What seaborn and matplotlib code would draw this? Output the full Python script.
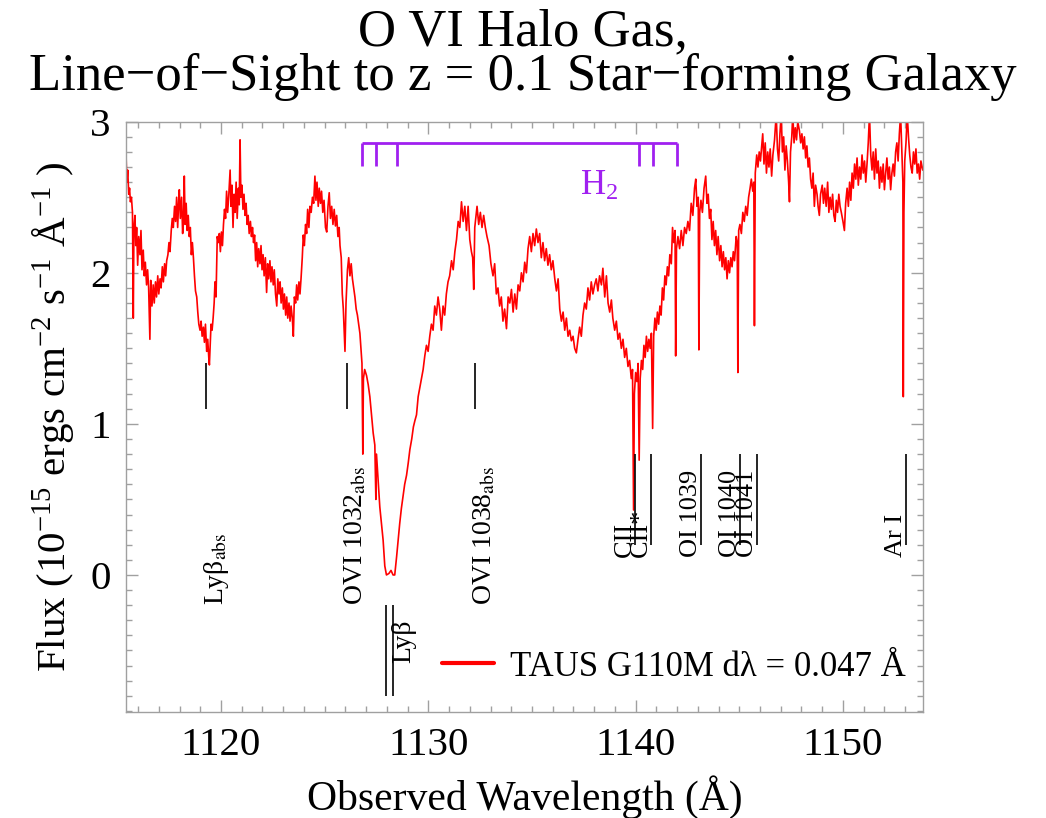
import numpy as np
import pandas as pd
import matplotlib
matplotlib.use("Agg")
import matplotlib.pyplot as plt
from matplotlib.ticker import MultipleLocator
import seaborn as sns

# spectrum, in pieces (wavelength in A, flux in 1e-15 cgs)
blue_wave = [1115.42, 1115.46, 1115.50, 1115.55, 1115.59, 1115.63, 1115.68, 1115.73, 1115.77, 1115.80,
             1115.85, 1115.89, 1115.93, 1115.98, 1116.03, 1116.09, 1116.14, 1116.19, 1116.25, 1116.30,
             1116.35, 1116.41, 1116.46, 1116.51, 1116.57, 1116.61, 1116.67, 1116.73, 1116.78, 1116.84,
             1116.89, 1116.95, 1117.00, 1117.06, 1117.11, 1117.17, 1117.22, 1117.28, 1117.33, 1117.38,
             1117.44, 1117.49, 1117.54, 1117.60, 1117.65, 1117.70, 1117.76, 1117.81, 1117.86, 1117.91,
             1117.96, 1117.99, 1118.04, 1118.10, 1118.15, 1118.20, 1118.23, 1118.27, 1118.32, 1118.37,
             1118.42, 1118.47, 1118.52, 1118.57, 1118.62, 1118.67, 1118.72, 1118.77, 1118.83, 1118.88,
             1118.93, 1118.99, 1119.04, 1119.09, 1119.15, 1119.20, 1119.25, 1119.31, 1119.36, 1119.41,
             1119.44, 1119.48, 1119.52, 1119.57, 1119.62, 1119.67, 1119.71, 1119.76, 1119.82, 1119.87,
             1119.92, 1119.97, 1120.02, 1120.07, 1120.12, 1120.17, 1120.22, 1120.27, 1120.32, 1120.37,
             1120.44, 1120.48, 1120.53, 1120.58, 1120.63, 1120.68, 1120.73, 1120.78, 1120.84, 1120.88,
             1120.92, 1120.96, 1121.01, 1121.06, 1121.11, 1121.16, 1121.21, 1121.26, 1121.31, 1121.36,
             1121.42, 1121.47, 1121.52, 1121.57, 1121.62, 1121.67, 1121.72, 1121.77, 1121.82, 1121.88,
             1121.93, 1121.98, 1122.03, 1122.08, 1122.14, 1122.20, 1122.25, 1122.30, 1122.36, 1122.41,
             1122.46, 1122.52, 1122.57, 1122.63, 1122.69, 1122.74, 1122.80, 1122.85, 1122.90, 1122.96,
             1123.01, 1123.06, 1123.12, 1123.17, 1123.22, 1123.28, 1123.33, 1123.38, 1123.44, 1123.49,
             1123.54, 1123.60, 1123.65, 1123.70, 1123.76, 1123.81, 1123.86, 1123.92, 1123.97, 1124.02,
             1124.08, 1124.13, 1124.18, 1124.24, 1124.29, 1124.35, 1124.41, 1124.47, 1124.53, 1124.58,
             1124.63, 1124.69, 1124.74, 1124.80, 1124.85, 1124.91, 1124.97, 1125.04, 1125.10, 1125.16,
             1125.22, 1125.28, 1125.34, 1125.40, 1125.46, 1125.52, 1125.58, 1125.64, 1125.70, 1125.74,
             1125.80, 1125.85, 1125.90, 1125.94, 1125.98, 1126.03, 1126.10, 1126.16, 1126.22, 1126.28,
             1126.34, 1126.40, 1126.46, 1126.52, 1126.58, 1126.64, 1126.70, 1126.75, 1126.80, 1126.84,
             1126.87]
blue_flux = [2.78, 2.60, 2.68, 2.52, 2.56, 2.47, 2.50, 2.40, 1.70, 2.30,
             2.38, 2.18, 2.30, 2.05, 2.24, 2.12, 2.28, 2.02, 2.15, 1.98,
             2.07, 1.92, 2.02, 1.90, 1.56, 1.95, 1.78, 1.92, 1.80, 1.94,
             1.84, 1.98, 1.86, 1.96, 1.90, 2.04, 1.94, 2.06, 1.98, 2.08,
             2.12, 2.20, 2.14, 2.28, 2.36, 2.30, 2.44, 2.34, 2.50, 2.30,
             2.48, 2.55, 2.36, 2.50, 2.26, 2.40, 2.64, 2.32, 2.46, 2.28,
             2.38, 2.24, 2.30, 2.12, 2.20, 2.10, 1.98, 1.88, 1.84, 1.74,
             1.66, 1.62, 1.68, 1.58, 1.64, 1.54, 1.66, 1.48, 1.56, 1.44,
             1.39, 1.52, 1.66, 1.62, 1.70, 1.80, 1.94, 1.84, 2.24, 2.20,
             2.26, 2.14, 2.27, 2.18, 2.32, 2.42, 2.36, 2.54, 2.40, 2.50,
             2.68, 2.44, 2.58, 2.30, 2.52, 2.40, 2.60, 2.36, 2.56, 2.45,
             2.88, 2.50, 2.58, 2.42, 2.52, 2.38, 2.46, 2.32, 2.38, 2.26,
             2.34, 2.24, 2.30, 2.20, 2.25, 2.08, 2.20, 2.04, 2.16, 2.06,
             2.18, 2.02, 2.12, 1.98, 2.10, 1.87, 2.06, 1.96, 2.08, 1.94,
             2.04, 1.92, 2.02, 1.86, 1.78, 1.96, 1.86, 1.94, 1.80, 1.90,
             1.76, 1.86, 1.72, 1.84, 1.70, 1.80, 1.68, 1.78, 1.70, 1.58,
             1.84, 1.80, 1.92, 1.82, 1.94, 1.86, 1.96, 2.10, 2.25, 2.18,
             2.32, 2.26, 2.42, 2.30, 2.44, 2.40, 2.50, 2.46, 2.64, 2.48,
             2.60, 2.44, 2.56, 2.46, 2.54, 2.40, 2.48, 2.30, 2.27, 2.44,
             2.53, 2.36, 2.44, 2.32, 2.42, 2.31, 2.38, 2.24, 2.30, 2.18,
             2.10, 1.86, 1.76, 1.62, 1.48, 1.80, 2.02, 2.10, 1.98, 2.06,
             1.96, 1.90, 1.84, 1.76, 1.72, 1.66, 1.60, 1.50, 1.40, 0.80,
             1.30]

trough_wave = [1126.93, 1127.02, 1127.10, 1127.18, 1127.26, 1127.34, 1127.42, 1127.47, 1127.50, 1127.58,
               1127.66, 1127.74, 1127.82, 1127.90, 1127.98, 1128.10, 1128.20, 1128.30, 1128.38, 1128.47,
               1128.55, 1128.62, 1128.70, 1128.78, 1128.86, 1128.95, 1129.03, 1129.11, 1129.20, 1129.28,
               1129.35, 1129.43, 1129.51, 1129.59, 1129.67, 1129.75, 1129.83, 1129.91, 1129.99, 1130.07,
               1130.15, 1130.23, 1130.31]
trough_flux = [1.36, 1.32, 1.26, 1.18, 1.06, 0.94, 0.86, 0.50, 0.80, 0.62,
               0.45, 0.34, 0.23, 0.06, 0.00, 0.01, 0.03, 0.00, 0.00, 0.12,
               0.24, 0.34, 0.44, 0.52, 0.60, 0.66, 0.74, 0.83, 0.90, 0.98,
               1.02, 1.06, 1.18, 1.24, 1.30, 1.36, 1.45, 1.52, 1.48, 1.58,
               1.66, 1.62, 1.78]

mid_wave = [1130.39, 1130.47, 1130.55, 1130.63, 1130.71, 1130.79, 1130.87, 1130.95, 1131.03, 1131.12,
            1131.20, 1131.28, 1131.36, 1131.44, 1131.52, 1131.60, 1131.68, 1131.76, 1131.84, 1131.92,
            1132.00, 1132.08, 1132.14, 1132.19, 1132.24, 1132.30, 1132.35, 1132.43, 1132.51, 1132.59,
            1132.67, 1132.75, 1132.83, 1132.93, 1133.02, 1133.12, 1133.20, 1133.28, 1133.36, 1133.44,
            1133.52, 1133.60, 1133.68, 1133.77, 1133.85, 1133.93, 1134.01, 1134.09, 1134.17, 1134.25,
            1134.33, 1134.41, 1134.49, 1134.57, 1134.65, 1134.73, 1134.81, 1134.89, 1134.97, 1135.05,
            1135.13, 1135.21, 1135.29, 1135.37, 1135.45, 1135.53, 1135.61, 1135.69, 1135.77, 1135.85,
            1135.93, 1136.01, 1136.10, 1136.18, 1136.26, 1136.34, 1136.42, 1136.50, 1136.58, 1136.66,
            1136.74, 1136.82, 1136.90, 1136.98, 1137.06, 1137.14, 1137.22, 1137.30, 1137.38, 1137.46,
            1137.54, 1137.62, 1137.70, 1137.78, 1137.86, 1137.94, 1138.02, 1138.10, 1138.18, 1138.26,
            1138.35, 1138.42, 1138.51, 1138.59, 1138.67, 1138.75, 1138.83, 1138.90, 1138.99, 1139.07,
            1139.15, 1139.23, 1139.31, 1139.39, 1139.47, 1139.55, 1139.63, 1139.71, 1139.79, 1139.85]
mid_flux = [1.72, 1.84, 1.76, 1.62, 1.78, 1.72, 1.86, 1.94, 1.98, 2.08,
            2.02, 2.14, 2.22, 2.34, 2.30, 2.47, 2.34, 2.44, 2.28, 2.44,
            2.22, 2.14, 2.10, 1.89, 2.30, 2.38, 2.44, 2.32, 2.40, 2.30,
            2.38, 2.30, 2.24, 2.18, 2.06, 1.98, 2.06, 1.86, 1.90, 1.78,
            1.84, 1.68, 1.76, 1.63, 1.84, 1.80, 1.89, 1.74, 1.86, 1.76,
            1.92, 1.88, 2.00, 1.94, 2.07, 2.00, 2.16, 2.24, 2.14, 2.26,
            2.18, 2.29, 2.20, 2.26, 2.10, 2.20, 2.08, 2.16, 2.05, 2.12,
            2.02, 2.08, 1.96, 1.88, 1.96, 1.76, 1.68, 1.74, 1.62, 1.70,
            1.58, 1.62, 1.55, 1.58, 1.50, 1.47, 1.56, 1.64, 1.58, 1.72,
            1.80, 1.76, 1.90, 1.82, 1.94, 1.86, 1.92, 1.96, 1.88, 1.98,
            1.92, 2.03, 1.84, 1.98, 1.80, 1.74, 1.82, 1.70, 1.62, 1.68,
            1.56, 1.60, 1.50, 1.56, 1.44, 1.50, 1.38, 1.42, 1.30, 1.36]

cii_wave = [1139.90, 1139.94, 1140.00, 1140.06, 1140.12, 1140.17, 1140.22, 1140.28, 1140.34, 1140.40,
            1140.46, 1140.52, 1140.58, 1140.64, 1140.70, 1140.76, 1140.82, 1140.87, 1140.93, 1140.99,
            1141.05, 1141.11, 1141.17, 1141.23, 1141.29, 1141.35, 1141.41, 1141.47, 1141.53, 1141.59,
            1141.65, 1141.72, 1141.78, 1141.84, 1141.90, 1141.93, 1141.97]
cii_flux = [0.43, 1.20, 1.34, 1.28, 1.40, 0.76, 1.30, 1.42, 1.36, 1.52,
            1.44, 1.58, 1.48, 1.56, 1.50, 1.60, 0.97, 1.58, 1.70, 1.62,
            1.74, 1.66, 1.78, 1.72, 1.90, 1.82, 1.98, 1.92, 2.04, 1.98,
            2.12, 2.06, 2.30, 2.20, 2.28, 1.45, 2.16]

red_wave = [1142.04, 1142.12, 1142.20, 1142.28, 1142.36, 1142.44, 1142.52, 1142.60, 1142.68, 1142.76,
            1142.84, 1142.90, 1142.96, 1143.02, 1143.05, 1143.09, 1143.15, 1143.22, 1143.30, 1143.38,
            1143.44, 1143.50, 1143.56, 1143.62, 1143.68, 1143.74, 1143.80, 1143.86, 1143.92, 1143.98,
            1144.05, 1144.11, 1144.17, 1144.23, 1144.29, 1144.35, 1144.41, 1144.47, 1144.53, 1144.59,
            1144.65, 1144.71, 1144.77, 1144.85, 1144.90, 1144.93, 1144.97, 1145.03, 1145.10, 1145.17,
            1145.24, 1145.31, 1145.38, 1145.45, 1145.52, 1145.58, 1145.65, 1145.70, 1145.73, 1145.77,
            1145.84, 1145.90, 1145.96, 1146.02, 1146.08, 1146.13, 1146.19, 1146.25, 1146.31, 1146.37,
            1146.43, 1146.49, 1146.56, 1146.62, 1146.70, 1146.78, 1146.84, 1146.90, 1146.96, 1147.02,
            1147.08, 1147.14, 1147.20, 1147.26, 1147.32, 1147.38, 1147.42, 1147.47, 1147.53, 1147.58,
            1147.64, 1147.70, 1147.76, 1147.82, 1147.90, 1147.96, 1148.02, 1148.08, 1148.14, 1148.20,
            1148.26, 1148.32, 1148.38, 1148.44, 1148.50, 1148.56, 1148.62, 1148.68, 1148.75, 1148.80,
            1148.86, 1148.92, 1149.00, 1149.06, 1149.12, 1149.19, 1149.26, 1149.32, 1149.38, 1149.44,
            1149.50, 1149.56, 1149.62, 1149.68, 1149.74, 1149.80, 1149.86, 1149.92, 1150.00, 1150.07,
            1150.13, 1150.20, 1150.26, 1150.32, 1150.38, 1150.44, 1150.50, 1150.56, 1150.62, 1150.68,
            1150.74, 1150.80, 1150.86, 1150.92, 1150.98, 1151.04, 1151.10, 1151.16, 1151.22, 1151.28,
            1151.34, 1151.40, 1151.46, 1151.52, 1151.58, 1151.64, 1151.70, 1151.76, 1151.82, 1151.88,
            1151.94, 1152.00, 1152.06, 1152.12, 1152.18, 1152.24, 1152.30, 1152.36, 1152.42, 1152.48,
            1152.54, 1152.60, 1152.66, 1152.72, 1152.78, 1152.84, 1152.89, 1152.91, 1152.94, 1152.98,
            1153.04, 1153.10, 1153.16, 1153.22, 1153.28, 1153.34, 1153.40, 1153.46, 1153.52, 1153.58,
            1153.64, 1153.70, 1153.76, 1153.85]
red_flux = [2.24, 2.16, 2.28, 2.18, 2.30, 2.26, 2.34, 2.28, 2.46, 2.38,
            2.56, 2.62, 2.44, 2.50, 1.49, 2.40, 2.48, 2.40, 2.56, 2.64,
            2.46, 2.52, 2.36, 2.42, 2.22, 2.34, 2.18, 2.28, 2.12, 2.24,
            2.08, 2.18, 2.04, 2.14, 2.02, 2.10, 1.96, 2.08, 2.00, 2.10,
            2.04, 2.14, 2.08, 2.24, 2.20, 1.34, 2.28, 2.32, 2.26, 2.40,
            2.34, 2.44, 2.38, 2.50, 2.56, 2.62, 2.54, 2.60, 1.65, 2.66,
            2.78, 2.70, 2.80, 2.74, 2.84, 2.92, 2.72, 2.86, 2.66, 2.80,
            2.70, 2.82, 2.64, 2.78, 2.88, 3.05, 2.82, 2.74, 2.92, 3.05,
            2.80, 2.90, 2.68, 2.84, 2.74, 2.60, 2.47, 2.80, 2.90, 3.05,
            2.86, 2.96, 2.88, 3.00, 2.94, 2.86, 2.92, 2.82, 2.90, 2.76,
            2.84, 2.70, 2.76, 2.62, 2.56, 2.66, 2.44, 2.58, 2.52, 2.44,
            2.38, 2.52, 2.58, 2.46, 2.56, 2.44, 2.60, 2.40, 2.50, 2.42,
            2.52, 2.38, 2.34, 2.48, 2.40, 2.52, 2.44, 2.40, 2.34, 2.28,
            2.46, 2.56, 2.44, 2.60, 2.48, 2.66, 2.56, 2.72, 2.62, 2.76,
            2.58, 2.70, 2.62, 2.78, 2.66, 2.74, 2.60, 2.72, 2.86, 3.05,
            2.78, 2.68, 2.80, 2.62, 2.82, 2.66, 2.74, 2.56, 2.70, 2.60,
            2.72, 2.55, 2.66, 2.76, 2.62, 2.70, 2.55, 2.66, 2.72, 2.64,
            2.80, 2.86, 2.74, 2.92, 3.05, 2.80, 2.60, 1.18, 2.40, 2.74,
            2.86, 3.05, 2.90, 2.78, 2.70, 2.66, 2.80, 2.72, 2.82, 2.66,
            2.72, 2.62, 2.74, 2.68]

# line identifications
abs_names = ["Ly\u03b2$_{\\rm abs}$", "OVI 1032$_{\\rm abs}$", "OVI 1038$_{\\rm abs}$"]
abs_wave = [1119.28, 1126.06, 1132.25]
ism_names = ["CII", "CII*", "OI 1039", "OI 1040", "OI 1041", "Ar I"]
ism_wave = [1139.97, 1140.72, 1143.15, 1145.03, 1145.86, 1153.04]
lyb_wave = [1127.98, 1128.29]
h2_wave = [1126.81, 1127.47, 1128.51, 1140.16, 1140.83, 1141.99]

spec = pd.DataFrame({
    "wave": blue_wave + trough_wave + mid_wave + cii_wave + red_wave,
    "flux": blue_flux + trough_flux + mid_flux + cii_flux + red_flux,
})

sns.set_style("ticks")
plt.rcParams.update({
    "font.family": ["Liberation Serif", "DejaVu Serif"],
    "mathtext.fontset": "stix",
    "mathtext.default": "regular",
    "text.color": "black",
    "axes.labelcolor": "black",
    "xtick.labelcolor": "black",
    "ytick.labelcolor": "black",
})

purple = "#a020f0"
grey = "#a0a0a0"

fig = plt.figure(figsize=(10.46, 8.18), dpi=100)
ax = fig.add_axes([0.1205, 0.1296, 0.7617, 0.7216])

sns.lineplot(data=spec, x="wave", y="flux", sort=False, estimator=None,
             color="red", lw=1.2, ax=ax, legend=False)

ax.set_xlim(1115.42, 1153.85)
ax.set_ylim(-0.907, 3.0)

# absorber marks, text sits above the baseline at -0.2
ax.vlines(abs_wave, 1.1, 1.4, color="black", lw=1.2)
for name, w in zip(abs_names, abs_wave):
    ax.text(w - 0.2, -0.2, name, rotation=90, ha="left", va="bottom", fontsize=20)

# galactic ISM lines
ax.vlines(ism_wave, 0.2, 0.8, color="black", lw=1.2)
for name, w in zip(ism_names, ism_wave):
    ax.text(w + 0.05, 0.12, name, rotation=90, ha="right", va="bottom", fontsize=19)

# Ly beta emission
ax.vlines(lyb_wave, -0.8, -0.2, color="black", lw=1.2)
ax.text(lyb_wave[1] - 0.1, -0.58, "Ly\u03b2", rotation=90, ha="left", va="bottom", fontsize=20)

# H2 bracket
ax.hlines(2.86, h2_wave[0], h2_wave[-1], color=purple, lw=2)
ax.vlines(h2_wave, 2.71, 2.86, color=purple, lw=2)
ax.text(1137.3, 2.515, "H$_2$", color=purple, ha="left", va="baseline", fontsize=25)

ax.plot([], [], color="red", lw=3, label="TAUS G110M d\u03bb = 0.047 \u00c5")
ax.legend(loc="center left", bbox_to_anchor=(0.397, 0.076), frameon=False,
          fontsize=25, handlelength=1.5, handletextpad=0.45, borderpad=0, borderaxespad=0)

ax.xaxis.set_major_locator(MultipleLocator(10))
ax.xaxis.set_minor_locator(MultipleLocator(1))
ax.yaxis.set_major_locator(MultipleLocator(1))
ax.yaxis.set_minor_locator(MultipleLocator(0.1))
ax.tick_params(which="both", direction="in", top=True, right=True, color=grey,
               labelsize=29.5, pad=11)
ax.tick_params(which="major", length=8.5, width=1)
ax.tick_params(which="minor", length=4.3, width=1)
for s in ax.spines.values():
    s.set_color(grey)
    s.set_linewidth(1)

ax.set_xlabel("Observed Wavelength (\u00c5)", fontsize=30, labelpad=8)
ax.set_ylabel("Flux (10$^{-15}$ ergs cm$^{-2}$ s$^{-1}$ \u00c5$^{-1}$ )", fontsize=29.5, labelpad=10)

fig.text(0.5, 0.99, "O VI Halo Gas,\nLine\u2212of\u2212Sight to z = 0.1 Star\u2212forming Galaxy",
         ha="center", va="top", fontsize=38, linespacing=0.92)

fig.savefig("out.png", dpi=100)
